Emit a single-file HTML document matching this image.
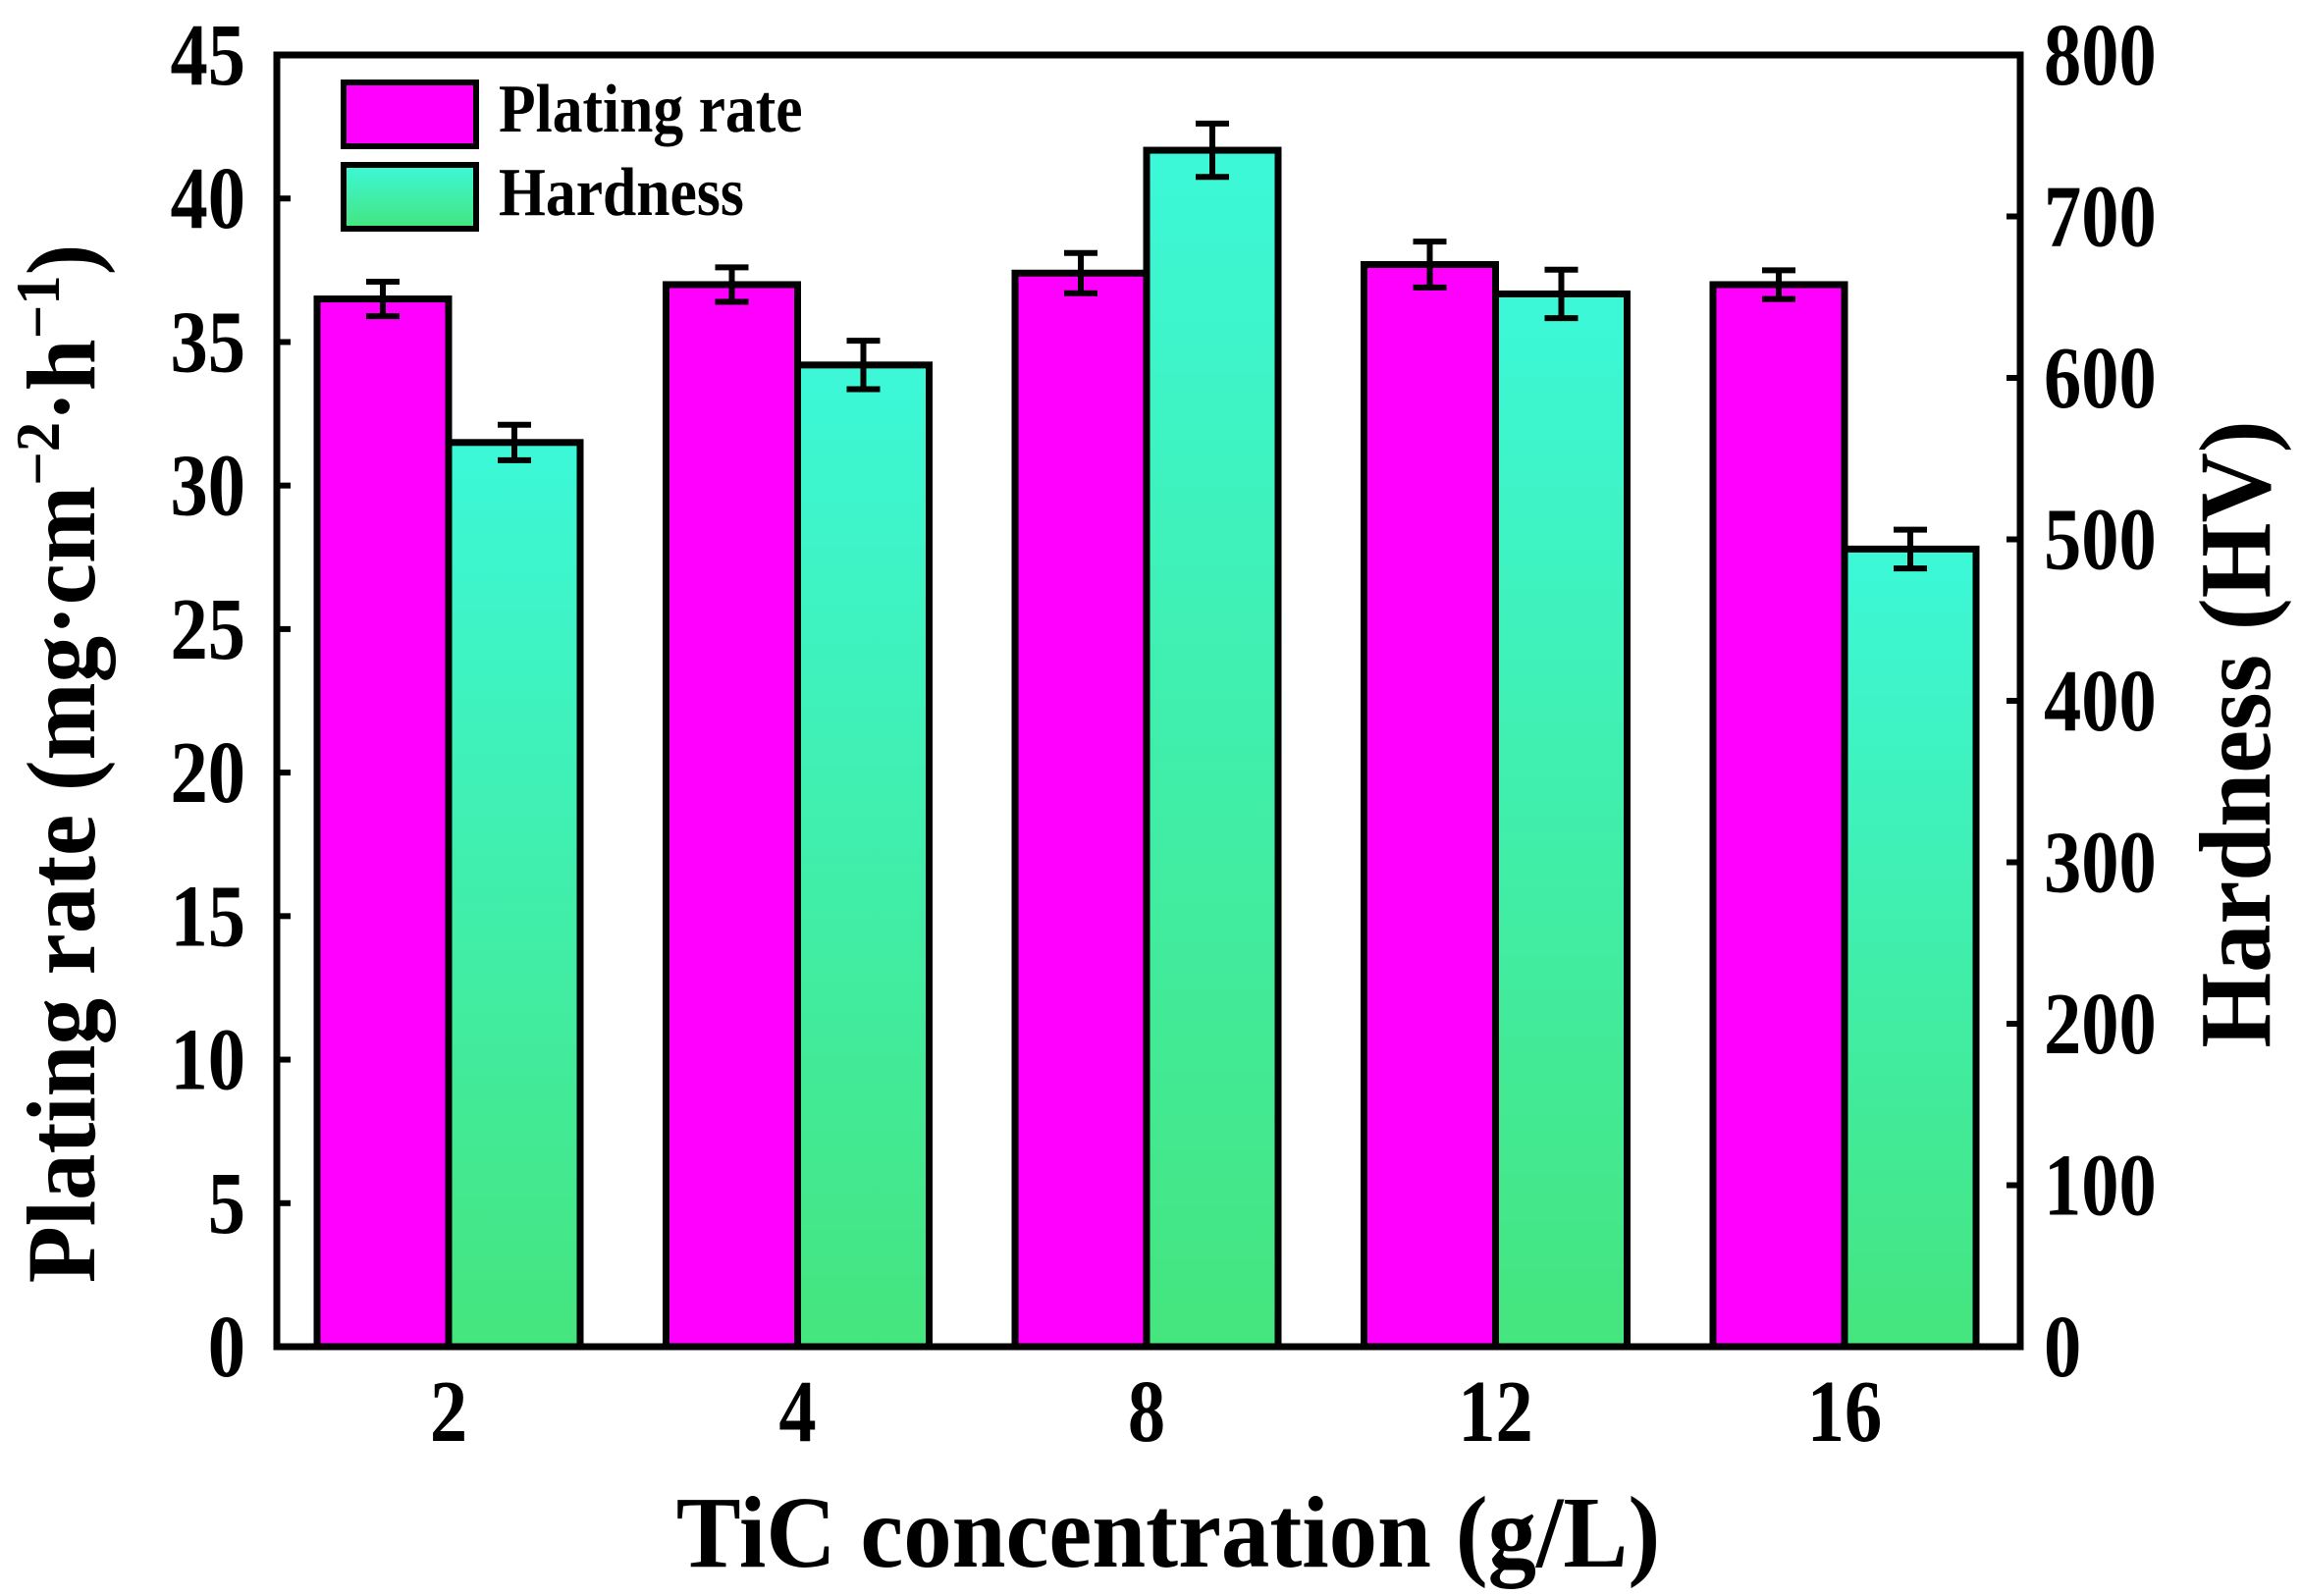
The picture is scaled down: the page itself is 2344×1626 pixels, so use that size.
<!DOCTYPE html>
<html><head><meta charset="utf-8"><style>
html,body{margin:0;padding:0;background:#fff}
svg{display:block}
text{font-family:"Liberation Serif",serif;font-weight:bold;fill:#000}
</style></head><body>
<svg id="chart" width="2344" height="1626" viewBox="0 0 2344 1626" xmlns="http://www.w3.org/2000/svg">
<defs>
<linearGradient id="tealGrad" x1="0" y1="0" x2="0" y2="1">
<stop offset="0" stop-color="#3cf8d8"/><stop offset="1" stop-color="#45e57e"/>
</linearGradient>
</defs>
<g id="bars"></g>
<rect x="282" y="56" width="1776" height="1316" fill="none" stroke="#000" stroke-width="7"/>
<g id="axes"></g>
<g>
<rect x="350" y="84" width="135" height="65" fill="#ff00ff" stroke="#000" stroke-width="6"/>
<text transform="translate(508,134) scale(0.88,1)" font-size="70">Plating rate</text>
<rect x="350" y="168" width="135" height="65" fill="url(#tealGrad)" stroke="#000" stroke-width="6"/>
<text transform="translate(508,219) scale(0.88,1)" font-size="70">Hardness</text>
</g>
<text transform="translate(1190,1596) scale(0.95,1)" font-size="104" text-anchor="middle">TiC concentration (g/L)</text>
<text transform="translate(96,778) rotate(-90) scale(0.95,1)" font-size="100" text-anchor="middle">Plating rate (mg·cm<tspan font-size="64" dy="-36">−2</tspan><tspan dy="36">·h</tspan><tspan font-size="64" dy="-36">−1</tspan><tspan dy="36">)</tspan></text>
<text transform="translate(2312,748) rotate(-90) scale(0.95,1)" font-size="104" text-anchor="middle">Hardness (HV)</text>
</svg>
<script>
const categories = ["2","4","8","12","16"];
const platingRate = [36.5, 37.0, 37.4, 37.7, 37.0];
const platingErr = [0.6, 0.6, 0.7, 0.8, 0.5];
const hardness = [560, 608, 741, 652, 494];
const hardnessErr = [11, 15, 16.5, 15, 12];
const leftTicks = [0,5,10,15,20,25,30,35,40,45];
const rightTicks = [0,100,200,300,400,500,600,700,800];

const NS = "http://www.w3.org/2000/svg";
const X0 = 282, X1 = 2058, Y0 = 1372, Y1 = 56;
const yL = v => Y0 - (v/45)*(Y0-Y1);
const yR = v => Y0 - (v/800)*(Y0-Y1);
const xC = i => 457 + i*355.5;
const BW = 134;
function mk(tag, attrs, parent){const e=document.createElementNS(NS,tag);for(const k in attrs)e.setAttribute(k,attrs[k]);parent.appendChild(e);return e;}
const bars = document.getElementById('bars');
const axes = document.getElementById('axes');
function errbar(x, yTop, yBot, name){
  const g = mk('g',{},bars);
  
  
  mk('line',{x1:x,x2:x,y1:yTop,y2:yBot,stroke:'#000','stroke-width':6},g);
  mk('line',{x1:x-17,x2:x+17,y1:yTop,y2:yTop,stroke:'#000','stroke-width':6},g);
  mk('line',{x1:x-17,x2:x+17,y1:yBot,y2:yBot,stroke:'#000','stroke-width':6},g);
}
function label(x, y, anchor, str){
  const t = mk('text',{transform:'translate('+x+','+y+') scale(0.85,1)','font-size':90,'text-anchor':anchor},axes);
  t.textContent = str;
  return t;
}
categories.forEach((c,i)=>{
  const cx = xC(i);
  const r1 = mk('rect',{x:cx-BW,y:yL(platingRate[i]),width:BW,height:Y0-yL(platingRate[i]),fill:'#ff00ff',stroke:'#000','stroke-width':7},bars);
  
  
  const r2 = mk('rect',{x:cx,y:yR(hardness[i]),width:BW,height:Y0-yR(hardness[i]),fill:'url(#tealGrad)',stroke:'#000','stroke-width':7},bars);
  
  
  errbar(cx-BW/2, yL(platingRate[i]+platingErr[i]), yL(platingRate[i]-platingErr[i]), 'errorbar-plating-rate-'+c);
  errbar(cx+BW/2, yR(hardness[i]+hardnessErr[i]), yR(hardness[i]-hardnessErr[i]), 'errorbar-hardness-'+c);
  const t = label(cx, 1468, 'middle', c);
  
  
  mk('line',{x1:cx,x2:cx,y1:Y0,y2:Y0-14,stroke:'#000','stroke-width':6},axes);
});
leftTicks.forEach(v=>{
  const y = yL(v);
  mk('line',{x1:X0,x2:X0+14,y1:y,y2:y,stroke:'#000','stroke-width':6},axes);
  const t = label(250, y+30, 'end', v);
  
  
});
rightTicks.forEach(v=>{
  const y = yR(v);
  mk('line',{x1:X1,x2:X1-14,y1:y,y2:y,stroke:'#000','stroke-width':6},axes);
  const t = label(2082, y+30, 'start', v);
  
  
});
</script>
</body></html>
